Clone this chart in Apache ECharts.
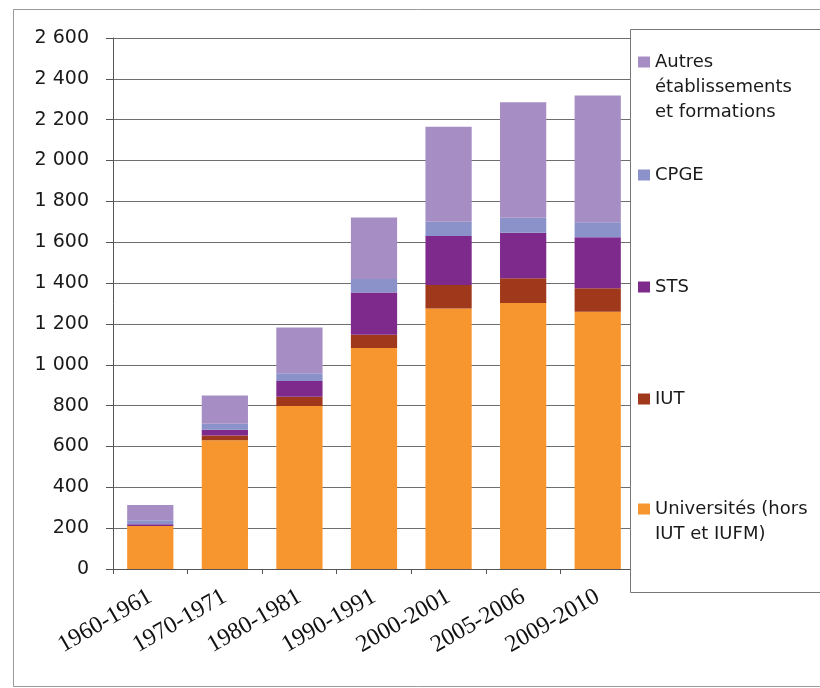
<!DOCTYPE html>
<html>
<head>
<meta charset="utf-8">
<script src="https://cdn.jsdelivr.net/npm/echarts@6/dist/echarts.min.js"></script>
<style>
html,body{margin:0;padding:0;background:#fff;}
#c{width:820px;height:688px;}
</style>
</head>
<body>
<div id="c"></div>
<script>
var categories = ['1960-1961','1970-1971','1980-1981','1990-1991','2000-2001','2005-2006','2009-2010'];
var universites = [210, 630, 798, 1082, 1275, 1302, 1260];
var iut = [0, 24, 46, 65, 115, 122, 115];
var sts = [9, 28, 76, 207, 240, 223, 249];
var cpge = [20, 29, 38, 66, 70, 73, 74];
var autres = [74, 139, 225, 301, 465, 565, 620];
var yTicks = {min: 0, max: 2600, interval: 200};

var names = {
  univ: 'Universités (hors IUT et IUFM)',
  iut: 'IUT',
  sts: 'STS',
  cpge: 'CPGE',
  autres: 'Autres établissements et formations'
};
var legendLines = {};
legendLines[names.univ] = ['Universités (hors', 'IUT et IUFM)'];
legendLines[names.autres] = ['Autres', 'établissements', 'et formations'];

var colors = {
  univ: '#F7962E',
  iut: '#A0391B',
  sts: '#7E2A8C',
  cpge: '#8A92C9',
  autres: '#A68EC4'
};

function fmtY(v) {
  if (v >= 1000) {
    var r = String(v % 1000);
    while (r.length < 3) r = '0' + r;
    return Math.floor(v / 1000) + ' ' + r;
  }
  return String(v);
}

var font = '"DejaVu Sans", "Liberation Sans", Arial, sans-serif';
var lh = 25;

// Legend text: icon is centred on the text block, so pad with empty lines
// above so that the first real line sits level with the icon.
function legendText(n) {
  var lines = legendLines[n] || [n];
  var pre = [];
  for (var i = 1; i < lines.length; i++) pre.push(' ');
  return pre.concat(lines).join('\n');
}

function mkLegend(name, centerY) {
  var lines = (legendLines[name] || [name]).length;
  var total = 2 * lines - 1;
  var boxH = total * lh;
  return {
    data: [name],
    left: 638,
    top: centerY - boxH / 2,
    padding: 0,
    icon: 'rect',
    itemWidth: 12,
    itemHeight: 11,
    selectedMode: false,
    formatter: legendText,
    textStyle: {
      fontFamily: font,
      fontSize: 18,
      color: '#1a1a1a',
      lineHeight: lh
    },
    z: 10
  };
}

function mkSeries(key, data) {
  return {
    name: names[key],
    type: 'bar',
    stack: 'total',
    data: data,
    barCategoryGap: '38%',
    itemStyle: {color: colors[key]},
    emphasis: {disabled: true}
  };
}

var chart = echarts.init(document.getElementById('c'), null, {renderer: 'canvas'});
chart.setOption({
  animation: false,
  backgroundColor: '#fff',
  grid: {left: 113, top: 38, width: 522, height: 531, containLabel: false},
  xAxis: {
    type: 'category',
    data: categories,
    axisLine: {lineStyle: {color: '#555', width: 1}},
    axisTick: {show: true, length: 5, lineStyle: {color: '#555'}},
    axisLabel: {
      rotate: 30,
      margin: 26,
      fontFamily: '"Liberation Serif", "Times New Roman", serif',
      fontSize: 24,
      color: '#111'
    }
  },
  yAxis: {
    type: 'value',
    min: yTicks.min,
    max: yTicks.max,
    interval: yTicks.interval,
    axisLine: {show: true, lineStyle: {color: '#555', width: 1}},
    axisTick: {show: true, length: 7, lineStyle: {color: '#555'}},
    axisLabel: {
      margin: 24,
      fontFamily: font,
      fontSize: 19,
      color: '#1a1a1a',
      formatter: fmtY
    },
    splitLine: {show: true, lineStyle: {color: '#6e6e6e', width: 1}}
  },
  legend: [
    mkLegend(names.autres, 62),
    mkLegend(names.cpge, 175),
    mkLegend(names.sts, 287),
    mkLegend(names.iut, 399),
    mkLegend(names.univ, 509)
  ],
  graphic: [
    {
      type: 'rect', silent: true, z: 0,
      shape: {x: 13.5, y: 9.5, width: 830, height: 677},
      style: {fill: 'none', stroke: '#9a9a9a', lineWidth: 1}
    },
    {
      type: 'rect', silent: true, z: 5,
      shape: {x: 630.5, y: 29.5, width: 200, height: 563},
      style: {fill: '#fff', stroke: '#777', lineWidth: 1}
    }
  ],
  series: [
    mkSeries('univ', universites),
    mkSeries('iut', iut),
    mkSeries('sts', sts),
    mkSeries('cpge', cpge),
    mkSeries('autres', autres)
  ]
});
</script>
</body>
</html>
